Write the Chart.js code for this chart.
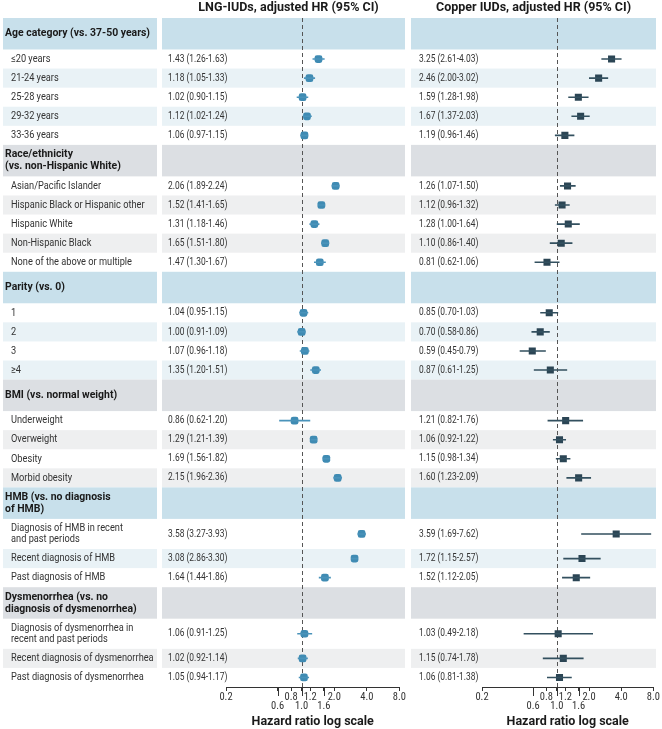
<!DOCTYPE html>
<html><head><meta charset="utf-8">
<script src="https://cdn.jsdelivr.net/npm/chart.js@4.4.1/dist/chart.umd.min.js"></script>
<style>
html,body{margin:0;padding:0;background:#fff;}
#wrap{position:relative;width:662px;height:729px;overflow:hidden;background:#fff;}
#c1{position:absolute;left:0;top:0;}
#c2{position:absolute;left:408px;top:0;}
</style></head><body>
<div id="wrap"><canvas id="c1" width="408" height="729"></canvas><canvas id="c2" width="254" height="729"></canvas></div>
<script>
const rowLabels = [
 'Age category (vs. 37-50 years)',
 '≤20 years','21-24 years','25-28 years','29-32 years','33-36 years',
 'Race/ethnicity\n(vs. non-Hispanic White)',
 'Asian/Pacific Islander','Hispanic Black or Hispanic other','Hispanic White','Non-Hispanic Black','None of the above or multiple',
 'Parity (vs. 0)',
 '1','2','3','≥4',
 'BMI (vs. normal weight)',
 'Underweight','Overweight','Obesity','Morbid obesity',
 'HMB (vs. no diagnosis\nof HMB)',
 'Diagnosis of HMB in recent\nand past periods','Recent diagnosis of HMB','Past diagnosis of HMB',
 'Dysmenorrhea (vs. no\ndiagnosis of dysmenorrhea)',
 'Diagnosis of dysmenorrhea in\nrecent and past periods','Recent diagnosis of dysmenorrhea','Past diagnosis of dysmenorrhea'
];
const headerRows = [0,6,12,17,22,26];
const lngHR = [null,1.43,1.18,1.02,1.12,1.06,null,2.06,1.52,1.31,1.65,1.47,null,1.04,1.00,1.07,1.35,null,0.86,1.29,1.69,2.15,null,3.58,3.08,1.64,null,1.06,1.02,1.05];
const lngLo = [null,1.26,1.05,0.90,1.02,0.97,null,1.89,1.41,1.18,1.51,1.30,null,0.95,0.91,0.96,1.20,null,0.62,1.21,1.56,1.96,null,3.27,2.86,1.44,null,0.91,0.92,0.94];
const lngHi = [null,1.63,1.33,1.15,1.24,1.15,null,2.24,1.65,1.46,1.80,1.67,null,1.15,1.09,1.18,1.51,null,1.20,1.39,1.82,2.36,null,3.93,3.30,1.86,null,1.25,1.14,1.17];
const cuHR = [null,3.25,2.46,1.59,1.67,1.19,null,1.26,1.12,1.28,1.10,0.81,null,0.85,0.70,0.59,0.87,null,1.21,1.06,1.15,1.60,null,3.59,1.72,1.52,null,1.03,1.15,1.06];
const cuLo = [null,2.61,2.00,1.28,1.37,0.96,null,1.07,0.96,1.00,0.86,0.62,null,0.70,0.58,0.45,0.61,null,0.82,0.92,0.98,1.23,null,1.69,1.15,1.12,null,0.49,0.74,0.81];
const cuHi = [null,4.03,3.02,1.98,2.03,1.46,null,1.50,1.32,1.64,1.40,1.06,null,1.03,0.86,0.79,1.25,null,1.76,1.22,1.34,2.09,null,7.62,2.57,2.05,null,2.18,1.78,1.38];
const tickValues = [0.2,0.6,0.8,1.0,1.2,1.6,2.0,4.0,8.0];
const lowTicks = [0.6,1.0,1.6];
const panelTitles = ['LNG-IUDs, adjusted HR (95% CI)','Copper IUDs, adjusted HR (95% CI)'];
const axisTitle = 'Hazard ratio log scale';

// ---- row layout (in row units) ----
const FONT = 'Roboto';
const FONT_C = '"Roboto Condensed", Roboto';
const kinds = rowLabels.map((l,i)=> headerRows.includes(i) ? 'header' : (l.includes('\n') ? 'double' : 'single'));
const unitH = {header:1.65, double:1.58, single:1};
const rowTop=[], rowBot=[], rowMid=[], section=[], inSec=[];
let acc=0, sec=-1, k=0;
kinds.forEach((kd,i)=>{
  if(kd==='header'){sec++; k=-1;} else k++;
  section.push(sec); inSec.push(k);
  rowTop.push(acc); acc+=unitH[kd]; rowBot.push(acc); rowMid.push((rowTop[i]+acc)/2);
});
const yTotal = acc;

function bandColor(i){
  const blue = section[i]%2===0;
  if(kinds[i]==='header') return blue ? '#c8e0eb' : '#dcdfe3';
  if(inSec[i]%2===1) return blue ? '#e9f2f6' : '#eeeff0';
  return null;
}
function txt(ctx, s, x, y, size, weight, color, sx, align){
  ctx.save();
  ctx.font = `${weight} ${size}px ${FONT}`;
  ctx.fillStyle=color; ctx.textBaseline='middle'; ctx.textAlign=align||'left';
  ctx.translate(x,y); ctx.scale(sx,1); ctx.fillText(s,0,0);
  ctx.restore();
}
function fmt(v){return v.toFixed(2);}

function tablePlugin(cfg){
  return {
    id:'table'+cfg.idx,
    beforeDraw(chart){
      const ctx=chart.ctx, ys=chart.scales.y;
      ctx.save(); ctx.fillStyle='#fff'; ctx.fillRect(0,0,chart.width,chart.height);
      rowLabels.forEach((lab,i)=>{
        const t=ys.getPixelForValue(rowTop[i]), b=ys.getPixelForValue(rowBot[i]);
        const c=bandColor(i);
        if(c){ ctx.fillStyle=c; cfg.bands.forEach(([l,r])=>ctx.fillRect(l,t,r-l,b-t)); }
      });
      ctx.restore();
      const mids = rowMid.map(v=>ys.getPixelForValue(v));
      const pb = cfg.bands[cfg.bands.length-1];
      txt(ctx, panelTitles[cfg.idx], (pb[0]+pb[1])/2 + cfg.titleShift, 8, 12.5, 'bold', '#1a1a1a', 1, 'center');
      if(cfg.labels){
        rowLabels.forEach((lab,i)=>{
          const lines=lab.split('\n');
          const hdr = kinds[i]==='header';
          const lh = hdr?12:11.5;
          lines.forEach((ln,j)=>{
            const yy = mids[i] + (j-(lines.length-1)/2)*lh;
            if(hdr) txt(ctx, ln, 5, yy, 11, 'bold', '#1a1a1a', 0.95);
            else txt(ctx, ln, 11, yy, 11, 'normal', '#333', 0.84);
          });
        });
      }
      cfg.hr.forEach((v,i)=>{
        if(v==null) return;
        txt(ctx, `${fmt(v)} (${fmt(cfg.lo[i])}-${fmt(cfg.hi[i])})`, cfg.valueX, mids[i], 10.5, 'normal', '#333', 0.8);
      });
    },
    beforeDatasetsDraw(chart){
      const ctx=chart.ctx, xs=chart.scales.x, ca=chart.chartArea;
      const px=Math.round(xs.getPixelForValue(1))+0.5;
      ctx.save(); ctx.strokeStyle='#555'; ctx.lineWidth=1; ctx.setLineDash([4,3]);
      ctx.beginPath(); ctx.moveTo(px,ca.top); ctx.lineTo(px,ca.bottom); ctx.stroke(); ctx.restore();
    },
    afterDraw(chart){
      const ctx=chart.ctx, xs=chart.scales.x, ca=chart.chartArea;
      ctx.save(); ctx.strokeStyle='#333'; ctx.lineWidth=1;
      lowTicks.forEach(v=>{ const px=Math.round(xs.getPixelForValue(v))+0.5;
        ctx.beginPath(); ctx.moveTo(px,ca.bottom); ctx.lineTo(px,ca.bottom+9); ctx.stroke(); });
      ctx.restore();
    }
  };
}

function makeChart(id, cfg){
  const ciData=[], ptData=[];
  cfg.hr.forEach((v,i)=>{
    if(v==null) return;
    ciData.push({x:cfg.lo[i],y:rowMid[i]},{x:cfg.hi[i],y:rowMid[i]},{x:1,y:null});
    ptData.push({x:v,y:rowMid[i]});
  });
  return new Chart(document.getElementById(id), {
    type:'scatter',
    data:{datasets:[
      {data:ciData, showLine:true, spanGaps:false, borderColor:cfg.ciColor, borderWidth:1.6, pointRadius:0, tension:0},
      {data:ptData, pointStyle:cfg.pointStyle, pointRadius:cfg.pointRadius, backgroundColor:cfg.color, borderColor:cfg.color, borderWidth:0}
    ]},
    options:{
      responsive:false, animation:false, events:[],
      layout:{padding:{left:cfg.padL, right:cfg.padR, top:18, bottom:0}},
      plugins:{legend:{display:false}, tooltip:{enabled:false}},
      scales:{
        y:{type:'linear', min:0, max:yTotal, reverse:true, display:false},
        x:{type:'logarithmic', min:0.2, max:8,
           afterBuildTicks:(s)=>{ s.ticks = tickValues.map(v=>({value:v})); },
           afterFit:(s)=>{ s.height = 42; },
           grid:{drawOnChartArea:false, drawTicks:true, tickLength:4, color:'#333', tickWidth:1},
           border:{display:true, color:'#333', width:1},
           ticks:{autoSkip:false, maxRotation:0, padding:2, color:'#333',
                  font:{family:FONT_C, size:10.5, lineHeight:0.85},
                  callback:(v)=> lowTicks.includes(v) ? ['', v.toFixed(1)] : v.toFixed(1)},
           title:{display:true, text:axisTitle, color:'#1a1a1a', padding:{top:0,bottom:0},
                  font:{family:FONT, size:12.5, weight:'bold', lineHeight:1.2}}
        }
      }
    },
    plugins:[tablePlugin(cfg)]
  });
}

makeChart('c1', {idx:0, hr:lngHR, lo:lngLo, hi:lngHi, labels:true, bands:[[3,157],[162,405]],
  valueX:168, titleShift:5, padL:226, padR:4, color:'#3f8bb3', ciColor:'#4a93ba', pointStyle:'rectRounded', pointRadius:4.5});
makeChart('c2', {idx:1, hr:cuHR, lo:cuLo, hi:cuHi, labels:false, bands:[[3,248]],
  valueX:11, titleShift:0, padL:74, padR:8, color:'#2b4554', ciColor:'#33505f', pointStyle:'rect', pointRadius:5});
</script>
</body></html>
